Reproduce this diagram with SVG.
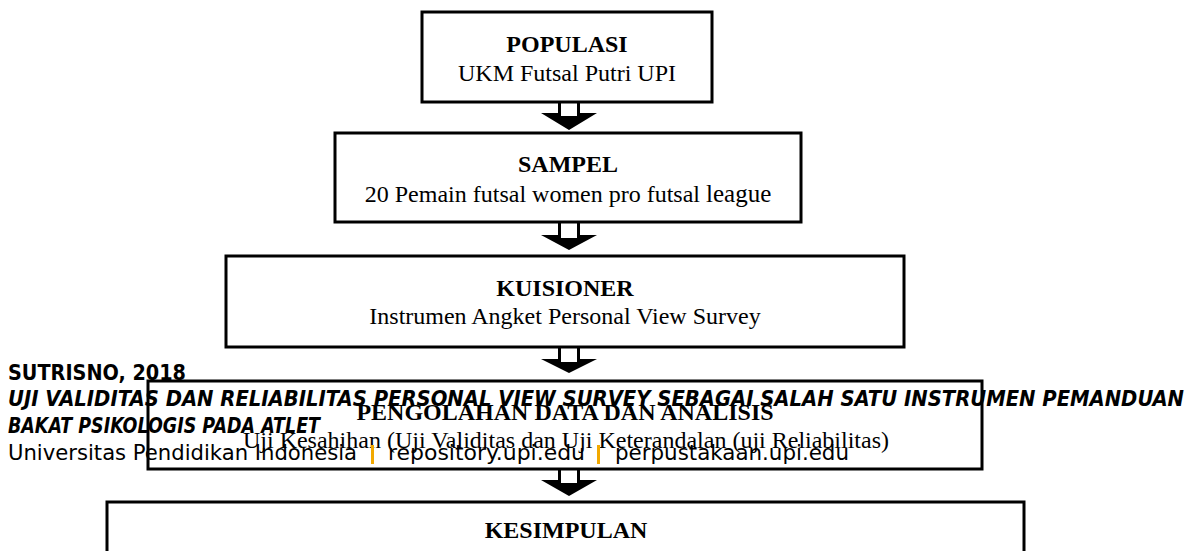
<svg xmlns="http://www.w3.org/2000/svg" width="1198" height="551" viewBox="0 0 1198 551">
<style>
.box{fill:#fff;stroke:#000;stroke-width:3}
.t{font-family:"Liberation Serif","Times New Roman",serif;font-size:24px;fill:#000;text-anchor:middle}
.b{font-weight:bold}
.ah{fill:#000}
.ai{fill:#fff}
.f{font-family:"DejaVu Sans",Verdana,sans-serif;font-size:21px;fill:#000}
.fb{font-weight:bold}
.fi{font-style:italic;font-weight:bold}
.sep{fill:#F2A900}
</style>
<rect width="1198" height="551" fill="#fff"/>
<g id="n1">
<rect class="box" x="422" y="12" width="290" height="90"/>
<text class="t b" x="567" y="52">POPULASI</text>
<text class="t" x="567" y="81">UKM Futsal Putri UPI</text>
</g>
<g id="n2">
<rect class="box" x="335" y="133" width="466" height="89"/>
<text class="t b" x="568" y="172">SAMPEL</text>
<text class="t" x="568" y="202">20 Pemain futsal women pro futsal <tspan font-size="25">league</tspan></text>
</g>
<g id="n3">
<rect class="box" x="226" y="256" width="678" height="91"/>
<text class="t b" x="565" y="296">KUISIONER</text>
<text class="t" x="565" y="324">Instrumen Angket Personal View Survey</text>
</g>
<g id="n4">
<rect class="box" x="148" y="381" width="834" height="88"/>
<text class="t b" x="565" y="420">PENGOLAHAN DATA DAN ANALISIS</text>
<text class="t" x="566" y="448">Uji Kesahihan (Uji Validitas dan Uji Keterandalan (uji Reliabilitas)</text>
</g>
<g id="n5">
<rect class="box" x="107" y="502" width="917" height="100"/>
<text class="t b" x="566" y="538" font-size="21">KESIMPULAN</text>
</g>
<g id="connectors">
<polygon class="ah" points="558,101 580,101 580,113 597,113 569,130 541,113 558,113"/>
<polygon class="ai" points="561,103.5 577,103.5 577,116 561,116"/>
<polygon class="ah" points="558,221 580,221 580,235 597,235 569,250 541,235 558,235"/>
<polygon class="ai" points="561,223.5 577,223.5 577,238 561,238"/>
<polygon class="ah" points="558,346 580,346 580,359 597,359 569,373 541,359 558,359"/>
<polygon class="ai" points="561,348.5 577,348.5 577,362 561,362"/>
<polygon class="ah" points="558,468 580,468 580,480 597,480 569,496 541,480 558,480"/>
<polygon class="ai" points="561,470.5 577,470.5 577,483 561,483"/>
</g>
<g id="footer">
<text class="f fb" x="8" y="380" textLength="178" lengthAdjust="spacingAndGlyphs">SUTRISNO, 2018</text>
<text class="f fi" x="8" y="406" textLength="1176" lengthAdjust="spacingAndGlyphs">UJI VALIDITAS DAN RELIABILITAS PERSONAL VIEW SURVEY SEBAGAI SALAH SATU INSTRUMEN PEMANDUAN</text>
<text class="f fi" x="8" y="433" textLength="312" lengthAdjust="spacingAndGlyphs">BAKAT PSIKOLOGIS PADA ATLET</text>
<text class="f" x="8" y="460" textLength="349" lengthAdjust="spacingAndGlyphs">Universitas Pendidikan Indonesia</text>
<rect class="sep" x="371" y="445" width="3" height="19"/>
<text class="f" x="388" y="460" textLength="197" lengthAdjust="spacingAndGlyphs">repository.upi.edu</text>
<rect class="sep" x="597" y="445" width="3" height="19"/>
<text class="f" x="615" y="460" textLength="234" lengthAdjust="spacingAndGlyphs">perpustakaan.upi.edu</text>
</g>
</svg>
